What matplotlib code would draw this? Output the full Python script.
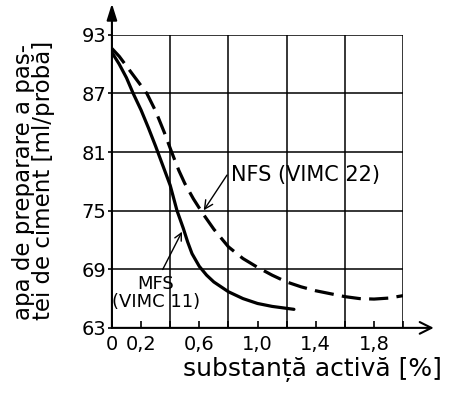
import numpy as np
import matplotlib.pyplot as plt

# data
x_mfs = [0, 0.05, 0.1, 0.146, 0.2, 0.25, 0.3, 0.35, 0.4, 0.447, 0.49, 0.52, 0.55, 0.6,
         0.65, 0.7, 0.8, 0.9, 1.0, 1.1, 1.25]
y_mfs = [91.2, 90.0, 88.6, 87.0, 85.3, 83.5, 81.6, 79.6, 77.6, 75.0, 73.2, 71.8, 70.6, 69.3,
         68.4, 67.7, 66.7, 66.0, 65.5, 65.2, 64.9]

x_nfs = [0, 0.05, 0.1, 0.15, 0.2, 0.24, 0.3, 0.36, 0.41, 0.46, 0.5, 0.56, 0.62, 0.7, 0.8,
         0.9, 1.0, 1.1, 1.2, 1.3, 1.4, 1.5, 1.6, 1.7, 1.8, 1.9, 2.0]
y_nfs = [91.6, 90.8, 89.8, 88.8, 87.8, 87.0, 85.2, 83.0, 81.0, 79.1, 77.8, 76.2, 74.8, 73.1, 71.3,
         70.1, 69.2, 68.4, 67.7, 67.2, 66.8, 66.5, 66.2, 66.0, 65.95, 66.05, 66.3]

x_ticks = [0, 0.2, 0.4, 0.6, 0.8, 1.0, 1.2, 1.4, 1.6, 1.8, 2.0]
x_ticklabels = ['0', '0,2', '', '0,6', '', '1,0', '', '1,4', '', '1,8', '']
y_ticks = [63, 69, 75, 81, 87, 93]

fig = plt.figure(figsize=(4.55, 3.96), dpi=100)
ax = fig.add_axes([0.246, 0.172, 0.64, 0.74])

ax.set_xlim(0, 2.0)
ax.set_ylim(63, 93)

# grid
for gx in [0.4, 0.8, 1.2, 1.6, 2.0]:
    ax.plot([gx, gx], [63, 93], color='black', lw=1.1, zorder=1)
for gy in [69, 75, 81, 87, 93]:
    ax.plot([0, 2.0], [gy, gy], color='black', lw=1.1, zorder=1)

# curves
ax.plot(x_mfs, y_mfs, color='black', lw=2.3, solid_capstyle='round',
        solid_joinstyle='round', zorder=3)
ax.plot(x_nfs, y_nfs, color='black', lw=2.3, dashes=(6, 2.6), zorder=3)

for s in ['top', 'right', 'left', 'bottom']:
    ax.spines[s].set_visible(False)

# axes with arrows
ax.annotate('', xy=(0, 96.2), xytext=(0, 63), xycoords='data', annotation_clip=False,
            arrowprops=dict(arrowstyle='-|>,head_length=0.7,head_width=0.22', lw=1.5,
                            color='black', mutation_scale=14, shrinkA=0, shrinkB=0))
ax.annotate('', xy=(2.21, 63), xytext=(0, 63), xycoords='data', annotation_clip=False,
            arrowprops=dict(arrowstyle='->,head_length=0.6,head_width=0.3', lw=1.5,
                            color='black', mutation_scale=14, shrinkA=0, shrinkB=0))

ax.set_xticks(x_ticks)
ax.set_xticklabels(x_ticklabels)
ax.set_yticks(y_ticks)
ax.set_yticklabels([str(v) for v in y_ticks])
ax.tick_params(axis='x', direction='in', length=5, width=1.2, labelsize=14, pad=5)
ax.tick_params(axis='y', direction='out', length=3, width=1.2, labelsize=14, pad=1)

fig.text(312 / 455, (396 - 370) / 396, 'substanță activă [%]', fontsize=18,
         ha='center', va='center')
fig.text(12 / 455, (396 - 320) / 396, 'apa de preparare a pas-\ntei de ciment [ml/probă]',
         fontsize=16.5, rotation=90, ha='left', va='bottom', multialignment='left',
         linespacing=0.85)

# labels with arrows
ax.annotate('NFS (VIMC 22)', xy=(0.62, 74.8), xytext=(0.82, 78.7), fontsize=15,
            ha='left', va='center',
            arrowprops=dict(arrowstyle='->', lw=1.0, color='black', relpos=(0.0, 0.8)))
ax.annotate('MFS\n(VIMC 11)', xy=(0.49, 73.1), xytext=(0.3, 66.6), fontsize=13,
            ha='center', va='center', linespacing=1.0,
            arrowprops=dict(arrowstyle='->', lw=1.0, color='black', relpos=(0.55, 1.0)))

fig.savefig('out.png', dpi=100)
